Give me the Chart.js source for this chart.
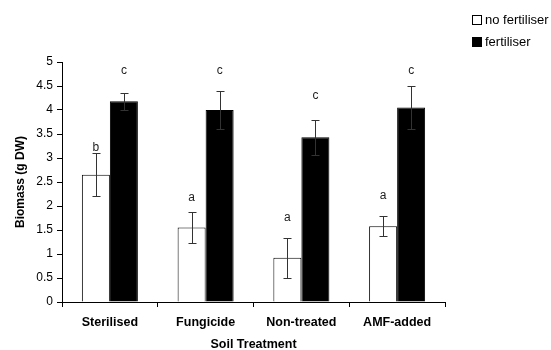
<!DOCTYPE html>
<html>
<head>
<meta charset="utf-8">
<script src="https://cdn.jsdelivr.net/npm/chart.js@4"></script>
<style>
  body { margin: 0; background: #fff; }
  #wrap { position: relative; width: 551px; height: 350px; }
  .leg { position: absolute; left: 472px; font: 13px "Liberation Sans", Arial, sans-serif; color: #000; }
  .leg span { display: inline-block; width: 8px; height: 8px; border: 1px solid #000; margin-right: 3px; vertical-align: -1px; }
</style>
</head>
<body>
<div id="wrap">
  <canvas id="chart" width="551" height="350"></canvas>
  <div class="leg" style="top:12px"><span style="background:#fff"></span>no fertiliser</div>
  <div class="leg" style="top:34px"><span style="background:#000"></span>fertiliser</div>
</div>
<script>
// --------------------
// DATA
// --------------------
const treatments = ["Sterilised", "Fungicide", "Non-treated", "AMF-added"];
const noFert = [2.65, 1.55, 0.92, 1.58];
const noFertErr = [0.45, 0.33, 0.42, 0.21];
const fert = [4.18, 4.0, 3.43, 4.05];
const fertErr = [0.17, 0.4, 0.37, 0.45];
const noFertLetters = ["b", "a", "a", "a"];
const fertLetters = ["c", "c", "c", "c"];
const noFertLetterY = [3.21, 2.18, 1.75, 2.21];
const fertLetterY = [4.81, 4.81, 4.29, 4.81];

const errors = [noFertErr, fertErr];
const letters = [noFertLetters, fertLetters];
const letterY = [noFertLetterY, fertLetterY];

// error bars + significance letters
const extras = {
  id: "extras",
  afterDatasetsDraw(chart) {
    const ctx = chart.ctx;
    const y = chart.scales.y;
    ctx.save();
    chart.data.datasets.forEach((ds, i) => {
      chart.getDatasetMeta(i).data.forEach((bar, j) => {
        const v = ds.data[j];
        const e = errors[i][j];
        const top = Math.round(y.getPixelForValue(v + e)) + 0.5;
        const bot = Math.round(y.getPixelForValue(v - e)) + 0.5;
        const x = Math.round(bar.x) + 0.5;
        ctx.strokeStyle = "#333";
        ctx.lineWidth = 1;
        ctx.beginPath();
        ctx.moveTo(x, top); ctx.lineTo(x, bot);
        ctx.moveTo(x - 4, top); ctx.lineTo(x + 4, top);
        ctx.moveTo(x - 4, bot); ctx.lineTo(x + 4, bot);
        ctx.stroke();

        ctx.fillStyle = "#222";
        ctx.font = "12px 'Liberation Sans', Arial, sans-serif";
        ctx.textAlign = "center";
        ctx.textBaseline = "middle";
        ctx.fillText(letters[i][j], bar.x, y.getPixelForValue(letterY[i][j]));
      });
    });
    ctx.restore();
  }
};

new Chart(document.getElementById("chart"), {
  type: "bar",
  data: {
    labels: treatments,
    datasets: [
      { label: "no fertiliser", data: noFert, backgroundColor: "#fff", borderColor: "#000", borderWidth: 1 },
      { label: "fertiliser", data: fert, backgroundColor: "#000", borderColor: "#000", borderWidth: 1 }
    ]
  },
  options: {
    responsive: false,
    animation: false,
    categoryPercentage: 0.585,
    barPercentage: 1,
    layout: { padding: { top: 62, right: 106, bottom: 0, left: 0 } },
    plugins: { legend: { display: false }, tooltip: { enabled: false } },
    scales: {
      x: {
        grid: { offset: true, drawOnChartArea: false, drawTicks: true, tickLength: 5, color: "#000" },
        border: { color: "#000" },
        ticks: { color: "#000", font: { family: "Liberation Sans", size: 12.5, weight: "bold" }, padding: 8 },
        title: { display: true, text: "Soil Treatment", color: "#000", font: { family: "Liberation Sans", size: 12.5, weight: "bold" }, padding: { top: 2, bottom: -2 } },
        afterFit(scale) { scale.height = 48; }
      },
      y: {
        min: 0,
        max: 5,
        grid: { drawOnChartArea: false, drawTicks: true, tickLength: 5, color: "#000" },
        border: { color: "#000" },
        ticks: { stepSize: 0.5, color: "#000", font: { family: "Liberation Sans", size: 12 }, padding: 4, callback: v => String(v) },
        title: { display: true, text: "Biomass (g DW)", color: "#000", font: { family: "Liberation Sans", size: 12, weight: "bold" }, padding: { top: 13 } },
        afterFit(scale) { scale.width = 62; }
      }
    }
  },
  plugins: [extras]
});
</script>
</body>
</html>
